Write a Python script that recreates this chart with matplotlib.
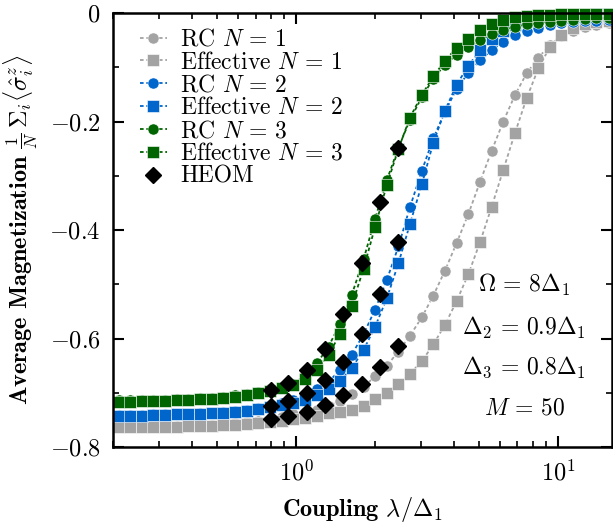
import matplotlib
matplotlib.use('Agg')
import matplotlib.pyplot as plt
from matplotlib.ticker import FixedLocator, FixedFormatter

plt.rcParams['font.family'] = 'serif'
plt.rcParams['font.serif'] = ['cmr10']
plt.rcParams['mathtext.fontset'] = 'cm'
plt.rcParams['axes.formatter.use_mathtext'] = True

# coupling grid shared by the RC / effective curves
lam = [0.210, 0.232, 0.257, 0.285, 0.316, 0.350, 0.388, 0.430, 0.476, 0.528,
       0.585, 0.648, 0.718, 0.795, 0.881, 0.976, 1.08, 1.20, 1.33, 1.47,
       1.63, 1.81, 2.00, 2.22, 2.46, 2.72, 3.02, 3.34, 3.70, 4.10,
       4.55, 5.04, 5.58, 6.18, 6.85, 7.59, 8.41, 9.32, 10.3, 11.4,
       12.7, 14.0, 15.6]

rc1 = [-0.764, -0.764, -0.763, -0.763, -0.762, -0.762, -0.761, -0.760, -0.759, -0.758,
       -0.756, -0.754, -0.752, -0.749, -0.745, -0.740, -0.736, -0.731, -0.724, -0.715,
       -0.703, -0.689, -0.670, -0.650, -0.624, -0.595, -0.561, -0.521, -0.475, -0.424,
       -0.370, -0.311, -0.254, -0.200, -0.151, -0.111, -0.082, -0.059, -0.043, -0.033,
       -0.026, -0.022, -0.019]
eff1 = [-0.764, -0.764, -0.764, -0.763, -0.763, -0.763, -0.762, -0.762, -0.761, -0.760,
        -0.759, -0.758, -0.756, -0.754, -0.752, -0.749, -0.746, -0.742, -0.738, -0.735,
        -0.731, -0.724, -0.712, -0.700, -0.684, -0.665, -0.642, -0.611, -0.575, -0.531,
        -0.481, -0.422, -0.357, -0.289, -0.221, -0.157, -0.102, -0.062, -0.040, -0.028,
        -0.021, -0.017, -0.015]
rc2 = [-0.741, -0.741, -0.741, -0.740, -0.740, -0.739, -0.739, -0.738, -0.737, -0.736,
       -0.734, -0.731, -0.728, -0.724, -0.719, -0.713, -0.704, -0.693, -0.680, -0.658,
       -0.630, -0.592, -0.547, -0.492, -0.430, -0.358, -0.291, -0.231, -0.182, -0.140,
       -0.110, -0.087, -0.068, -0.053, -0.041, -0.034, -0.028, -0.023, -0.019, -0.017,
       -0.015, -0.014, -0.013]
eff2 = [-0.742, -0.742, -0.742, -0.741, -0.741, -0.740, -0.740, -0.739, -0.738, -0.737,
        -0.735, -0.733, -0.730, -0.727, -0.723, -0.719, -0.713, -0.705, -0.694, -0.679,
        -0.655, -0.621, -0.579, -0.526, -0.461, -0.389, -0.316, -0.239, -0.180, -0.132,
        -0.097, -0.068, -0.047, -0.033, -0.022, -0.015, -0.010, -0.007, -0.005, -0.004,
        -0.003, -0.002, -0.002]
rc3 = [-0.714, -0.714, -0.714, -0.713, -0.713, -0.712, -0.711, -0.710, -0.709, -0.707,
       -0.705, -0.702, -0.699, -0.694, -0.689, -0.684, -0.668, -0.646, -0.615, -0.573,
       -0.520, -0.454, -0.380, -0.308, -0.248, -0.197, -0.155, -0.121, -0.095, -0.077,
       -0.062, -0.050, -0.039, -0.031, -0.025, -0.021, -0.018, -0.016, -0.014, -0.012,
       -0.011, -0.010, -0.009]
eff3 = [-0.717, -0.717, -0.716, -0.716, -0.715, -0.714, -0.713, -0.712, -0.711, -0.709,
        -0.707, -0.704, -0.701, -0.697, -0.692, -0.686, -0.675, -0.658, -0.630, -0.592,
        -0.540, -0.471, -0.395, -0.317, -0.250, -0.193, -0.151, -0.117, -0.088, -0.064,
        -0.047, -0.032, -0.021, -0.013, -0.008, -0.005, -0.004, -0.003, -0.002, -0.002,
        -0.001, -0.001, -0.001]

# HEOM reference points
heom_lam = [0.80, 0.935, 1.10, 1.29, 1.515, 1.78, 2.09, 2.46]
heom1 = [-0.749, -0.743, -0.735, -0.722, -0.705, -0.683, -0.652, -0.613]
heom2 = [-0.724, -0.715, -0.700, -0.676, -0.644, -0.591, -0.518, -0.423]
heom3 = [-0.695, -0.682, -0.658, -0.619, -0.555, -0.460, -0.348, -0.249]

gray = '#a3a3a3'
blue = '#0066cc'
green = '#006400'
fs = 17.5

fig = plt.figure(figsize=(6.13, 5.27), dpi=100)
ax = fig.add_axes([0.1843, 0.1518, 0.8133, 0.8235])

style = dict(ls=(0, (2, 1.5)), lw=1.3, ms=8, mec='white', mew=0.4, clip_on=False)
ax.plot(lam, rc1, marker='o', color=gray, label=r'RC $N\,=\,1$', **style)
ax.plot(lam, eff1, marker='s', color=gray, label=r'Effective $N\,=\,1$', **style)
ax.plot(lam, rc2, marker='o', color=blue, label=r'RC $N\,=\,2$', **style)
ax.plot(lam, eff2, marker='s', color=blue, label=r'Effective $N\,=\,2$', **style)
ax.plot(lam, rc3, marker='o', color=green, label=r'RC $N\,=\,3$', **style)
ax.plot(lam, eff3, marker='s', color=green, label=r'Effective $N\,=\,3$', **style)

ax.plot(heom_lam, heom1, 'D', color='k', ms=8, label='HEOM', zorder=3)
ax.plot(heom_lam, heom2, 'D', color='k', ms=8, zorder=3)
ax.plot(heom_lam, heom3, 'D', color='k', ms=8, zorder=3)

ax.set_xscale('log')
ax.set_xlim(0.2, 16)
ax.set_ylim(-0.8, 0)

ax.yaxis.set_major_locator(FixedLocator([-0.8, -0.6, -0.4, -0.2, 0]))
ax.yaxis.set_major_formatter(FixedFormatter(['$-0.8$', '$-0.6$', '$-0.4$', '$-0.2$', '$0$']))
ax.yaxis.set_minor_locator(FixedLocator([-0.7, -0.5, -0.3, -0.1]))

ax.tick_params(which='both', direction='in', top=True, right=True, labelsize=fs, pad=9)
ax.tick_params(which='major', length=8, width=1.5)
ax.tick_params(which='minor', length=4.5, width=1.2)
for sp in ax.spines.values():
    sp.set_linewidth(1.8)

ax.set_xlabel(r'Coupling $\lambda/\Delta_1$', fontsize=fs, fontfamily='cmb10')
ax.set_ylabel(r'Average Magnetization $\frac{1}{N}\,\Sigma_i\langle\hat{\sigma}_i^z\rangle$',
              fontsize=fs, fontfamily='cmb10')
ax.xaxis.set_label_coords(0.5, -0.11)
ax.yaxis.set_label_coords(-0.146, 0.5)

ax.text(0.825, 0.373, r'$\Omega\,=\,8\Delta_1$', transform=ax.transAxes, ha='center', va='center', fontsize=17)
ax.text(0.825, 0.274, r'$\Delta_2\,=\,0.9\Delta_1$', transform=ax.transAxes, ha='center', va='center', fontsize=17)
ax.text(0.825, 0.184, r'$\Delta_3\,=\,0.8\Delta_1$', transform=ax.transAxes, ha='center', va='center', fontsize=17)
ax.text(0.825, 0.090, r'$M\,=\,50$', transform=ax.transAxes, ha='center', va='center', fontsize=17)

ax.legend(loc='upper left', bbox_to_anchor=(0.054, 0.964), frameon=False, fontsize=17,
          handlelength=1.15, handletextpad=0.55, labelspacing=0.03, borderpad=0,
          borderaxespad=0, numpoints=1)

fig.savefig('out.png', dpi=100)
